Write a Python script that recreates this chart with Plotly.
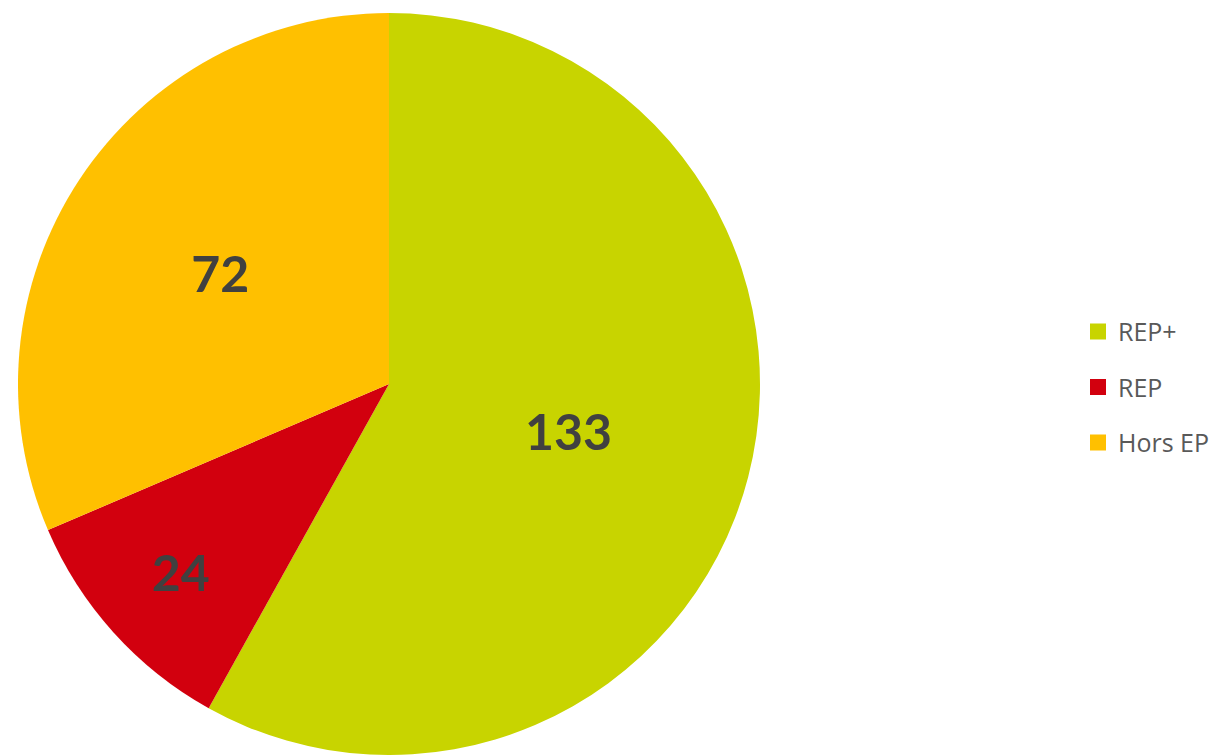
import plotly.graph_objects as go

# Répartition des établissements par zone d'éducation prioritaire
categories = ["REP+", "REP", "Hors EP"]
counts = [133, 24, 72]
colors = ["#C8D400", "#D2000E", "#FFC000"]

W, H = 1223, 755

fig = go.Figure()

fig.add_trace(go.Pie(
    labels=categories,
    values=counts,
    sort=False,
    direction="clockwise",
    rotation=0,
    marker=dict(colors=colors, line=dict(color="#FFFFFF", width=0)),
    textinfo="value",
    textposition="inside",
    insidetextorientation="horizontal",
    insidetextfont=dict(family="Lato", size=50, color="#404040", weight="bold"),
    showlegend=False,
    hoverinfo="label+value+percent",
    domain=dict(x=[16 / W, 762 / W], y=[0, 1 - 13 / H]),
))

# Légende : carrés de couleur avec espacement régulier
for cat, col in zip(categories, colors):
    fig.add_trace(go.Scatter(
        x=[None], y=[None], mode="markers", name=cat,
        legendgroup=cat,
        marker=dict(symbol="square", size=16, color=col),
    ))

fig.update_layout(
    width=W, height=H,
    margin=dict(l=0, r=0, t=0, b=0),
    paper_bgcolor="#FFFFFF",
    plot_bgcolor="rgba(0,0,0,0)",
    xaxis=dict(visible=False),
    yaxis=dict(visible=False),
    legend=dict(
        x=1078 / W, y=0.487, xanchor="left", yanchor="middle",
        font=dict(family="Open Sans", size=25, color="#595959"),
        tracegroupgap=20,
        itemwidth=30,
        bgcolor="rgba(0,0,0,0)",
    ),
)

fig.write_html("out.html")
